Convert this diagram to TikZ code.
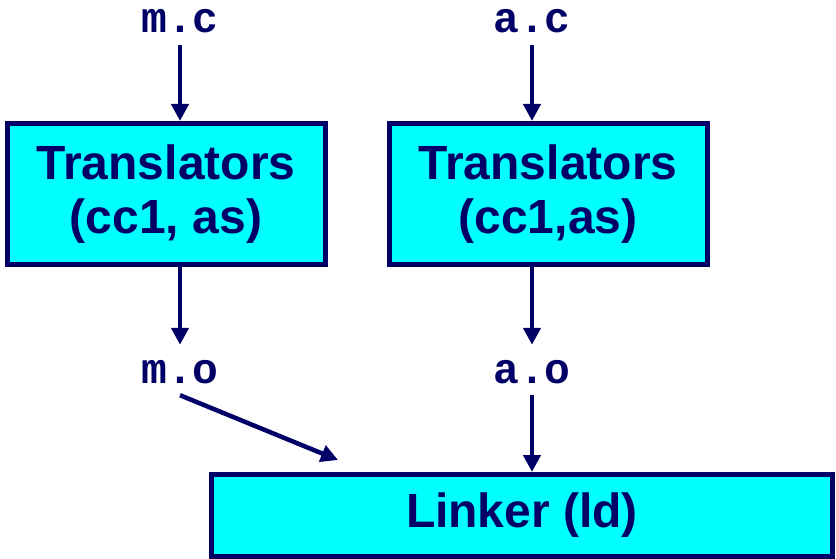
\documentclass[tikz,border=0pt]{standalone}
\usepackage{fontspec}
\setmainfont{Liberation Sans}
\setmonofont{Liberation Mono}
\usetikzlibrary{arrows.meta,positioning}
\definecolor{navy}{RGB}{0,0,102}
\definecolor{aqua}{RGB}{0,255,255}

\begin{document}
\begin{tikzpicture}[x=1pt,y=-1pt,
  box/.style={draw=navy, fill=aqua, line width=5pt, text=navy,
    font=\fontsize{48}{54}\selectfont\bfseries, align=center, inner sep=0pt},
  file/.style={text=navy, font=\fontsize{43}{43}\selectfont\ttfamily\bfseries,
    inner sep=0pt, text height=22pt, text depth=0pt, anchor=base},
  flow/.style={draw=navy, line width=4.5pt, -{Triangle[length=17pt,width=17pt]}}
]
  \useasboundingbox (0,0) rectangle (836,559);
  % one translator per source file, then the linker
  \node[box, minimum width=318pt, minimum height=141pt] (trm) at (166,194) {Translators\\(cc1, as)};
  \node[box, minimum width=318pt, minimum height=141pt] (tra) at (548,194) {Translators\\(cc1,as)};
  \node[box, minimum width=621pt, minimum height=82pt] (lk) at (522,515.5) {Linker (ld)};

  \node[file] (mc) at (180,33) {m.c};
  \node[file] (ac) at (532,33) {a.c};
  \node[file] (mo) at (180,383) {m.o};
  \node[file] (ao) at (532,383) {a.o};
  \coordinate (lkin) at (338,460);

  \draw[flow] ([yshift=-12pt]mc.south) -- (mc.south |- trm.north);
  \draw[flow] ([yshift=-12pt]ac.south) -- (ac.south |- tra.north);
  \draw[flow, shorten >=16pt] (mo.north |- trm.south) -- (mo.north);
  \draw[flow, shorten >=16pt] (ao.north |- tra.south) -- (ao.north);
  \draw[flow] ([yshift=-12pt]mo.south) -- (lkin);
  \draw[flow] ([yshift=-12pt]ao.south) -- (ao.south |- lk.north);
\end{tikzpicture}
\end{document}
